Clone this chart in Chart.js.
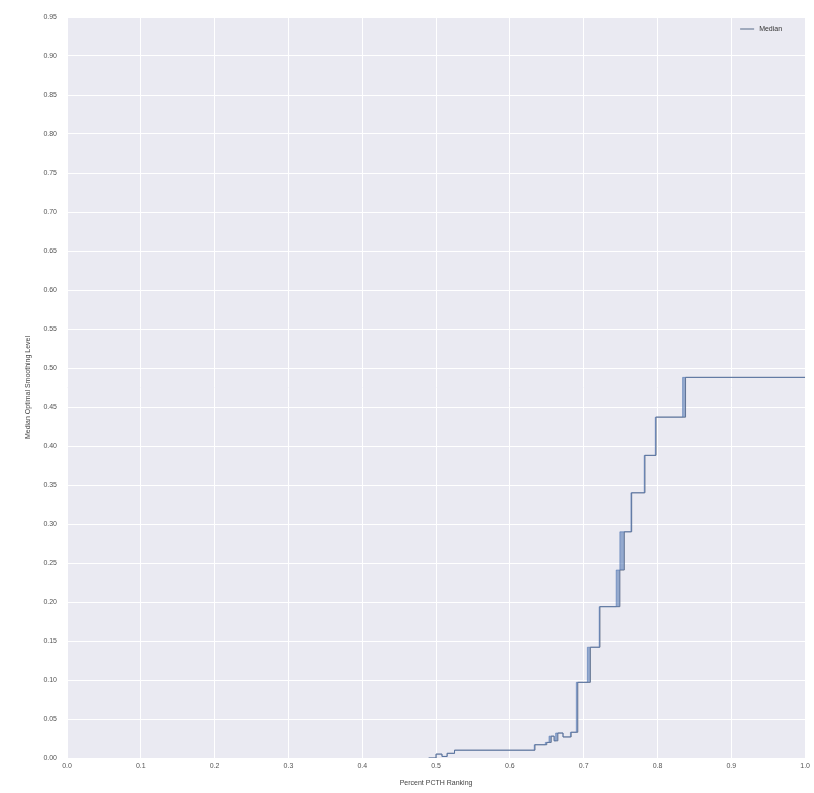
<!DOCTYPE html>
<html>
<head>
<meta charset="utf-8">
<script src="https://cdn.jsdelivr.net/npm/chart.js@4/dist/chart.umd.min.js"></script>
<style>
  html, body { margin: 0; padding: 0; background: #ffffff; }
  #wrap { width: 814px; height: 793px; position: relative; }
</style>
</head>
<body>
<div id="wrap"><canvas id="c" width="814" height="793"></canvas></div>
<script>
// Percent PCTH ranking (x) where each step starts
const ranking = [0.490, 0.500, 0.508, 0.515, 0.525, 0.634, 0.650, 0.656, 0.660, 0.665, 0.672, 0.683, 0.692, 0.709, 0.722, 0.749, 0.755, 0.765, 0.783, 0.798, 0.838, 1.000];
// Median optimal smoothing level at each step
const medianLevel = [0.000, 0.005, 0.002, 0.006, 0.010, 0.017, 0.020, 0.028, 0.022, 0.032, 0.027, 0.033, 0.097, 0.142, 0.194, 0.241, 0.290, 0.340, 0.388, 0.437, 0.488, 0.488];
// Lower edge of the estimate band (steps slightly earlier)
const bandRanking = [0.490, 0.500, 0.508, 0.515, 0.525, 0.633, 0.648, 0.653, 0.660, 0.662, 0.672, 0.682, 0.690, 0.705, 0.721, 0.744, 0.749, 0.764, 0.782, 0.797, 0.834, 1.000];
const bandLevel = [0.000, 0.005, 0.002, 0.006, 0.010, 0.017, 0.020, 0.028, 0.022, 0.032, 0.027, 0.033, 0.097, 0.142, 0.194, 0.241, 0.290, 0.340, 0.388, 0.437, 0.488, 0.488];

const yTicks = [0.00,0.05,0.10,0.15,0.20,0.25,0.30,0.35,0.40,0.45,0.50,0.55,0.60,0.65,0.70,0.75,0.80,0.85,0.90,0.95];
const xTicks = [0.0,0.1,0.2,0.3,0.4,0.5,0.6,0.7,0.8,0.9,1.0];

const seriesLabel = 'Median';
const xTitle = 'Percent PCTH Ranking';
const yTitle = 'Median Optimal Smoothing Level';

const medianPts = ranking.map((x, i) => ({x: x, y: medianLevel[i]}));
const bandPts = bandRanking.map((x, i) => ({x: x, y: bandLevel[i]}));

const FONT = 'Liberation Sans, Arial, sans-serif';

const bgPlugin = {
  id: 'bg',
  beforeDraw(chart) {
    const {ctx, chartArea: a} = chart;
    ctx.save();
    ctx.fillStyle = '#ffffff';
    ctx.fillRect(0, 0, chart.width, chart.height);
    ctx.fillStyle = '#EAEAF2';
    ctx.fillRect(a.left, a.top, a.right - a.left, a.bottom - a.top);
    ctx.restore();
  },
  afterDraw(chart) {
    const {ctx, chartArea: a} = chart;
    ctx.save();
    // legend inside top right
    const ds = chart.data.datasets[1];
    const lx = a.right - 65, ly = a.top + 12;
    ctx.strokeStyle = '#6f7f99';
    ctx.lineWidth = 1.2;
    ctx.beginPath();
    ctx.moveTo(lx, ly);
    ctx.lineTo(lx + 14, ly);
    ctx.stroke();
    ctx.fillStyle = '#333';
    ctx.font = '7px ' + FONT;
    ctx.textBaseline = 'middle';
    ctx.fillText(ds.label, lx + 19, ly);
    ctx.restore();
  }
};

new Chart(document.getElementById('c'), {
  type: 'line',
  data: {
    datasets: [
      {
        label: 'band',
        data: bandPts,
        stepped: 'before',
        borderColor: 'rgba(76,114,176,0.55)',
        backgroundColor: 'rgba(76,114,176,0.55)',
        borderWidth: 1,
        pointRadius: 0,
        fill: '+1'
      },
      {
        label: seriesLabel,
        data: medianPts,
        stepped: 'before',
        borderColor: '#66738a',
        borderWidth: 1,
        pointRadius: 0,
        fill: false
      }
    ]
  },
  plugins: [bgPlugin],
  options: {
    responsive: false,
    animation: false,
    layout: { padding: { top: 17, right: 6, left: 24, bottom: 6 } },
    plugins: {
      legend: { display: false },
      tooltip: { enabled: false },
      filler: { propagate: false }
    },
    scales: {
      x: {
        type: 'linear',
        min: 0, max: 1,
        afterBuildTicks(s) { s.ticks = xTicks.map(v => ({value: v})); },
        afterFit(s) { s.height = 29; },
        grid: { color: '#ffffff', lineWidth: 1, drawTicks: false },
        border: { display: false },
        ticks: {
          padding: 4,
          maxRotation: 0,
          color: '#555',
          font: { size: 7, family: FONT },
          callback: v => Number(v).toFixed(1)
        },
        title: {
          display: true, text: xTitle, color: '#444',
          font: { size: 7, family: FONT }, padding: { top: 2, bottom: 0 }
        }
      },
      y: {
        type: 'linear',
        min: 0, max: 0.95,
        afterBuildTicks(s) { s.ticks = yTicks.map(v => ({value: v})); },
        afterFit(s) { s.width = 43; },
        grid: { color: '#ffffff', lineWidth: 1, drawTicks: false },
        border: { display: false },
        ticks: {
          padding: 10,
          color: '#555',
          font: { size: 7, family: FONT },
          callback: v => Number(v).toFixed(2)
        },
        title: {
          display: true, text: yTitle, color: '#444',
          font: { size: 7, family: FONT }, padding: { top: 0, bottom: 0 }
        }
      }
    }
  }
});
</script>
</body>
</html>
